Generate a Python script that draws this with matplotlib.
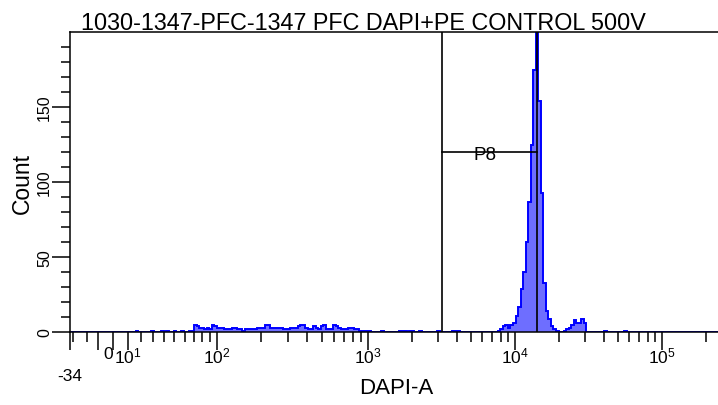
import numpy as np
import matplotlib
matplotlib.use("Agg")
import matplotlib.pyplot as plt
from matplotlib.ticker import FixedLocator, FixedFormatter

plt.rcParams['font.family'] = ['Liberation Sans', 'DejaVu Sans']
plt.rcParams['mathtext.fontset'] = 'custom'
plt.rcParams['mathtext.rm'] = 'Liberation Sans'
plt.rcParams['mathtext.it'] = 'Liberation Sans:italic'
plt.rcParams['mathtext.bf'] = 'Liberation Sans:bold'

TITLE = "1030-1347-PFC-1347 PFC DAPI+PE CONTROL 500V"
X_LABEL = "DAPI-A"
Y_LABEL = "Count"

# event counts per display bin (256 bins across the DAPI-A axis)
COUNTS = [
    0, 0, 0, 0, 0, 0, 0, 0, 0, 0, 0, 0, 0, 0, 0, 0,
    0, 0, 0, 0, 0, 0, 0, 0, 0, 0, 1, 0, 0, 0, 0, 0,
    1, 0, 0, 0, 1, 0, 1, 0, 0, 1, 0, 0, 1, 0, 0, 1,
    1, 5, 4, 3, 3, 2, 3, 2, 5, 4, 3, 3, 3, 2, 2, 2,
    3, 3, 2, 2, 1, 2, 2, 2, 2, 2, 3, 3, 3, 5, 5, 3,
    3, 3, 3, 3, 2, 2, 2, 3, 3, 3, 4, 5, 5, 3, 2, 2,
    4, 3, 2, 4, 5, 2, 2, 2, 5, 4, 3, 2, 2, 2, 3, 3,
    2, 2, 1, 1, 1, 1, 1, 0, 0, 0, 0, 1, 0, 0, 0, 0,
    0, 0, 1, 1, 1, 0, 1, 1, 0, 0, 1, 0, 0, 0, 0, 0,
    0, 1, 0, 0, 0, 0, 0, 1, 1, 1, 0, 0, 0, 0, 0, 0,
    0, 0, 0, 0, 0, 0, 0, 0, 0, 1, 2, 4, 5, 3, 5, 6,
    11, 17, 29, 40, 60, 87, 125, 175, 230, 154, 93, 33, 14, 9, 4, 2,
    1, 0, 0, 1, 2, 3, 5, 8, 6, 6, 9, 6, 0, 0, 0, 0,
    0, 0, 0, 1, 0, 0, 0, 0, 0, 0, 0, 1, 0, 0, 0, 0,
    0, 0, 0, 0, 0, 0, 0, 0, 0, 0, 0, 0, 0, 0, 0, 0,
    0, 0, 0, 0, 0, 0, 0, 0, 0, 0, 0, 0, 0, 0, 0, 0,
]

X_MIN, X_MAX = -34, 240000
Y_MAX = 200

GATE_NAME = "P8"
GATE_LO, GATE_HI = 3185, 14060
GATE_Y = 120
GATE_LABEL_X = 6250

MAJOR_X = [-34, -10, 0, 10, 100, 1000, 10000, 100000]
MAJOR_X_LABELS = ["\n-34", "", "0", r"$\mathregular{10^{1}}$", r"$\mathregular{10^{2}}$",
                  r"$\mathregular{10^{3}}$", r"$\mathregular{10^{4}}$", r"$\mathregular{10^{5}}$"]
MINOR_X = ([-30, -20] + list(range(20, 100, 10)) + list(range(200, 1000, 100))
           + list(range(2000, 10000, 1000)) + list(range(20000, 100000, 10000)) + [200000])

# biexponential-like display transform (value -> screen units)
_ANCHOR_VAL = np.array([-1e5, -34, -30, -20, -10, 0, 10, 30, 50, 100, 1e3, 1e4, 1e5, 1e7])
_ANCHOR_POS = np.array([-300, 70, 73, 87, 98, 113, 128, 153, 174, 217, 368, 515, 662, 956], float)
_C = 40.0
_ANCHOR_S = np.arcsinh(_ANCHOR_VAL / _C)


def biex(x):
    return np.interp(np.arcsinh(np.asarray(x, float) / _C), _ANCHOR_S, _ANCHOR_POS)


def biex_inv(p):
    return _C * np.sinh(np.interp(np.asarray(p, float), _ANCHOR_POS, _ANCHOR_S))


W, H = 718, 406
fig = plt.figure(figsize=(W / 100, H / 100), dpi=100)
ax = fig.add_axes([70 / W, (H - 333) / H, (718 - 70) / W, 300 / H])
ax.set_xscale('function', functions=(biex, biex_inv))
ax.set_xlim(X_MIN, X_MAX)
ax.set_ylim(0, Y_MAX)

edges = biex_inv(np.linspace(biex(X_MIN), biex(X_MAX), len(COUNTS) + 1))
ax.stairs(COUNTS, edges, fill=True, color='#6e6eff', zorder=1)
ax.stairs(COUNTS, edges, color='#0000ff', lw=1.4, zorder=1.5)

# interval gate
ax.axvline(GATE_LO, color='black', lw=1.2, zorder=3)
ax.axvline(GATE_HI, color='black', lw=1.2, zorder=3)
ax.plot([GATE_LO, GATE_HI], [GATE_Y, GATE_Y], color='black', lw=1.2, zorder=3)
ax.text(GATE_LABEL_X, GATE_Y - 2, GATE_NAME, ha='center', va='center', fontsize=13.5, zorder=4)

ax.spines['right'].set_visible(False)
for s in ['left', 'bottom', 'top']:
    ax.spines[s].set_linewidth(1.1)

ax.xaxis.set_major_locator(FixedLocator(MAJOR_X))
ax.xaxis.set_major_formatter(FixedFormatter(MAJOR_X_LABELS))
ax.xaxis.set_minor_locator(FixedLocator(MINOR_X))
ax.yaxis.set_major_locator(FixedLocator([0, 50, 100, 150]))
ax.yaxis.set_minor_locator(FixedLocator([v for v in range(10, 200, 10) if v % 50]))

ax.tick_params(axis='x', which='major', length=13, width=1.1, labelsize=12.5, pad=-3)
ax.tick_params(axis='x', which='minor', length=7.2, width=1.1)
ax.tick_params(axis='y', which='major', length=13, width=1.1, labelsize=11.5, pad=0,
               labelrotation=90)
ax.tick_params(axis='y', which='minor', length=6.5, width=1.1)
for lab in ax.get_yticklabels():
    lab.set_va('center')
xlabels = ax.get_xticklabels()
xlabels[0].set_linespacing(1.6)
xlabels[2].set_ha('right')

fig.text(363.5 / W, 1 - 30 / H, TITLE, ha='center', va='baseline', fontsize=16.8)
fig.text(22.5 / W, 1 - 183 / H, Y_LABEL, rotation=90, ha='center', va='center', fontsize=16.5)
fig.text(396 / W, 1 - 389 / H, X_LABEL, ha='center', va='center', fontsize=16)

fig.savefig('out.png', dpi=100)
